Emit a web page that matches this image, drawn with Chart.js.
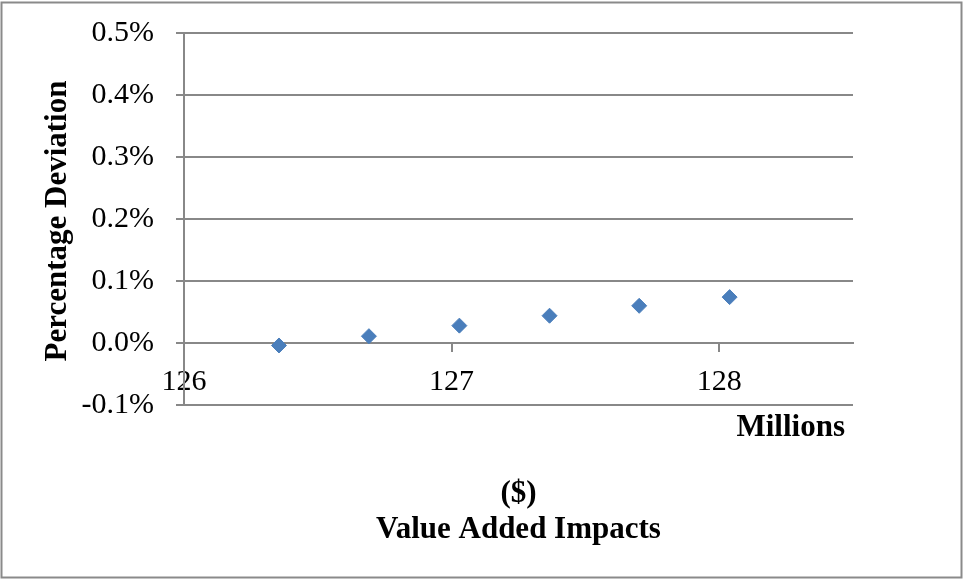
<!DOCTYPE html>
<html>
<head>
<meta charset="utf-8">
<title>Value Added Impacts – Percentage Deviation</title>
<script src="https://cdn.jsdelivr.net/npm/chart.js@4/dist/chart.umd.min.js"></script>
<style>
  html, body { margin: 0; padding: 0; background: #ffffff; }
  canvas { display: block; }
</style>
</head>
<body>
<canvas id="chart" width="964" height="581"></canvas>
<script>
// Value added impacts (millions of $) and their percentage deviation
const valueAdded = [126.355, 126.691, 127.029, 127.366, 127.701, 128.039];
const deviationPct = [-0.004, 0.011, 0.028, 0.044, 0.060, 0.074];

// Axis ticks
const xTicks = [126, 127, 128];
const yTicks = [-0.1, 0, 0.1, 0.2, 0.3, 0.4, 0.5];

// Axis titles
const yTitle = 'Percentage Deviation';
const xUnitsLabel = 'Millions';
const xTitleLines = ['($)', 'Value Added Impacts'];

const GRID = '#888888';
const MARK = '#4A7EBB';
const SERIF = '"Liberation Serif", "Times New Roman", serif';

const points = valueAdded.map((x, i) => ({ x: x, y: deviationPct[i] }));

const titlesAndFrame = {
  id: 'titlesAndFrame',
  afterDraw(chart) {
    const ctx = chart.ctx;
    const area = chart.chartArea;
    const cx = (area.left + area.right) / 2;
    ctx.save();
    ctx.fillStyle = '#000000';
    ctx.font = 'bold 31px ' + SERIF;

    // y-axis title
    ctx.save();
    ctx.translate(58, (area.top + area.bottom) / 2 + 2);
    ctx.rotate(-Math.PI / 2);
    ctx.textAlign = 'center';
    ctx.textBaseline = 'middle';
    ctx.fillText(yTitle, 0, 0);
    ctx.restore();

    // display-units label under the x axis
    ctx.textAlign = 'right';
    ctx.textBaseline = 'alphabetic';
    ctx.fillText(xUnitsLabel, area.right - 8, 436);

    // x-axis title
    ctx.textAlign = 'center';
    ctx.fillText(xTitleLines[0], cx, 502);
    ctx.fillText(xTitleLines[1], cx, 538);

    // outer frame
    ctx.strokeStyle = '#8a8a8a';
    ctx.lineWidth = 2;
    ctx.strokeRect(1.5, 2.5, 960, 575);
    ctx.restore();
  }
};

new Chart(document.getElementById('chart'), {
  type: 'scatter',
  data: {
    datasets: [{
      label: 'Value Added Impacts',
      data: points,
      pointStyle: 'rectRot',
      pointRadius: 7.5,
      pointHoverRadius: 7.5,
      backgroundColor: MARK,
      borderColor: MARK,
      borderWidth: 1
    }]
  },
  options: {
    responsive: false,
    animation: false,
    devicePixelRatio: 1,
    layout: { padding: { top: 33, right: 111, bottom: 176, left: 0 } },
    plugins: {
      legend: { display: false },
      tooltip: { enabled: false }
    },
    scales: {
      x: {
        type: 'linear',
        position: { y: 0 },
        min: 126,
        max: 128.5,
        afterBuildTicks(scale) { scale.ticks = xTicks.map(v => ({ value: v })); },
        grid: {
          drawOnChartArea: false,
          drawTicks: true,
          tickLength: 8,
          color: GRID,
          lineWidth: 2
        },
        border: { display: true, color: GRID, width: 2 },
        ticks: {
          color: '#000000',
          font: { family: SERIF, size: 30 },
          padding: 13,
          maxRotation: 0,
          autoSkip: false,
          callback: v => String(v)
        }
      },
      y: {
        type: 'linear',
        position: 'left',
        min: -0.1,
        max: 0.5,
        afterBuildTicks(scale) { scale.ticks = yTicks.map(v => ({ value: v })); },
        afterFit(scale) {
          scale.width = 184;
          scale.paddingTop = 0;
          scale.paddingBottom = 0;
        },
        grid: {
          drawOnChartArea: true,
          drawTicks: true,
          tickLength: 8,
          color: GRID,
          lineWidth: 2
        },
        border: { display: true, color: GRID, width: 2 },
        ticks: {
          color: '#000000',
          font: { family: SERIF, size: 30 },
          padding: 22,
          autoSkip: false,
          callback: v => v.toFixed(1) + '%'
        }
      }
    }
  },
  plugins: [titlesAndFrame]
});
</script>
</body>
</html>
